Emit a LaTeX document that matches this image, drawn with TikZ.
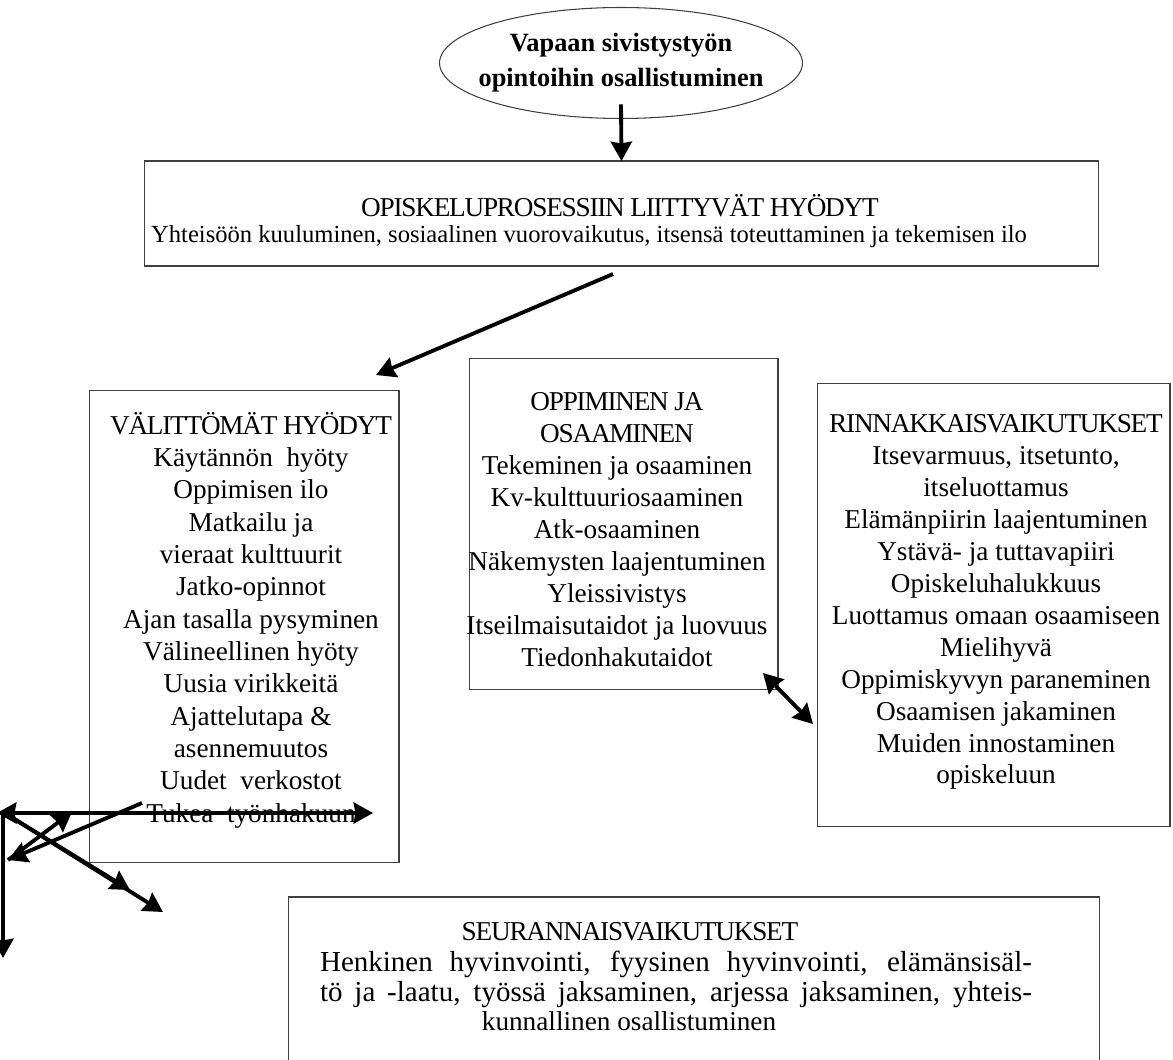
\documentclass[tikz,border=0pt]{standalone}
\usepackage{fontspec}
\setmainfont{Liberation Serif}
\usetikzlibrary{arrows.meta,shapes.geometric}
\newcommand\ttl[1]{{\addfontfeature{LetterSpace=-4.5}#1}}

\begin{document}
\begin{tikzpicture}[x=0.02cm, y=-0.02cm,
	>={Stealth[length=11pt, width=12pt, inset=1pt]},
	box/.style={draw=black!75, line width=0.6pt, inner sep=0pt, outer sep=0pt},
	txt/.style={align=center, inner sep=0pt, font=\fontsize{15.5pt}{18.4pt}\selectfont},
	arr/.style={line width=2.2pt, ->}]
\useasboundingbox (0,0) rectangle (1173,1060);
\clip (0,0) rectangle (1173,1060);
% boxes
\node[box, ellipse, minimum width=7.26cm, minimum height=2.22cm] (ell) at (621,63) {};
\node[txt, font=\fontsize{15pt}{20pt}\selectfont\bfseries] (ellt) at (621,63)
	{Vapaan sivistystyön\\opintoihin osallistuminen};
\node[box, minimum width=19.1cm, minimum height=2.1cm] (opb) at (621.5,213.5) {};
\node[txt] (opt1) at (620,206) {\ttl{OPISKELUPROSESSIIN LIITTYVÄT HYÖDYT}};
\node[txt, font=\fontsize{14pt}{17pt}\selectfont] (opt2) at (589,237) {Yhteisöön kuuluminen, sosiaalinen vuorovaikutus, itsensä toteuttaminen ja tekemisen ilo};
\node[box, minimum width=6.2cm, minimum height=9.46cm] (vhb) at (244,626.5) {};
\node[txt] (vht) at (251,620) {\ttl{VÄLITTÖMÄT HYÖDYT}\\Käytännön\ \ hyöty\\Oppimisen ilo\\Matkailu ja\\vieraat kulttuurit\\Jatko-opinnot\\Ajan tasalla pysyminen\\Välineellinen hyöty\\Uusia virikkeitä\\Ajattelutapa \&\\asennemuutos\\Uudet\ \ verkostot\\Tukea\ \ työnhakuun};
\node[box, minimum width=6.18cm, minimum height=6.64cm] (oob) at (623.5,524) {};
\node[txt, font=\fontsize{15.5pt}{18.2pt}\selectfont] (oot) at (617,530) {\ttl{OPPIMINEN JA}\\\ttl{OSAAMINEN}\\Tekeminen ja osaaminen\\Kv-kulttuuriosaaminen\\Atk-osaaminen\\Näkemysten laajentuminen\\Yleissivistys\\Itseilmaisutaidot ja luovuus\\Tiedonhakutaidot};
\node[box, minimum width=7.06cm, minimum height=8.88cm] (rvb) at (993.5,605) {};
\node[txt, font=\fontsize{15.5pt}{18.2pt}\selectfont] (rvt) at (996,602) {\ttl{RINNAKKAISVAIKUTUKSET}\\Itsevarmuus,\ itsetunto,\\itseluottamus\\Elämänpiirin laajentuminen\\Ystävä- ja tuttavapiiri\\Opiskeluhalukkuus\\Luottamus omaan osaamiseen\\Mielihyvä\\Oppimiskyvyn paraneminen\\Osaamisen jakaminen\\Muiden innostaminen\\opiskeluun};
\node[box, minimum width=16.24cm, minimum height=3.66cm] (svb) at (694,988.5) {};
\node[txt] (svt1) at (630,932) {\ttl{SEURANNAISVAIKUTUKSET}};
\node[txt, font=\fontsize{16.5pt}{17pt}\selectfont] (svt2) at (676,979)
	{\makebox[14.24cm][s]{Henkinen hyvinvointi, fyysinen hyvinvointi, elämänsisäl-}\\
	\makebox[14.24cm][s]{tö ja -laatu, työssä jaksaminen, arjessa jaksaminen, yhteis-}};
\node[txt] (svt3) at (629,1021) {kunnallinen osallistuminen};
% arrows
\draw[arr] ([yshift=0.28cm]ell.south) -- (opb.north);
\coordinate (s2) at (613,274);
\coordinate (e2) at (376,375);
\draw[arr] (s2) -- (e2);
\coordinate (d1) at (763,673);
\coordinate (d2) at (813,724);
\draw[arr, <->] (d1) -- (d2);
% stray arrows at the left edge
\coordinate (l0) at (-3,813);
\coordinate (l1) at (373,813);
\coordinate (l2) at (142,803);
\coordinate (l3) at (8,860);
\coordinate (l4) at (72,812);
\coordinate (l5) at (3,812);
\coordinate (l6) at (130,890);
\coordinate (l7) at (163,912);
\coordinate (l8) at (3,958);
\draw[arr, <->] (l0) -- (l1);
\draw[arr] (l2) -- (l3);
\draw[arr] (l3) -- (l4);
\foreach \e in {l6, l7, l8} \draw[arr] (l5) -- (\e);
\end{tikzpicture}
\end{document}
